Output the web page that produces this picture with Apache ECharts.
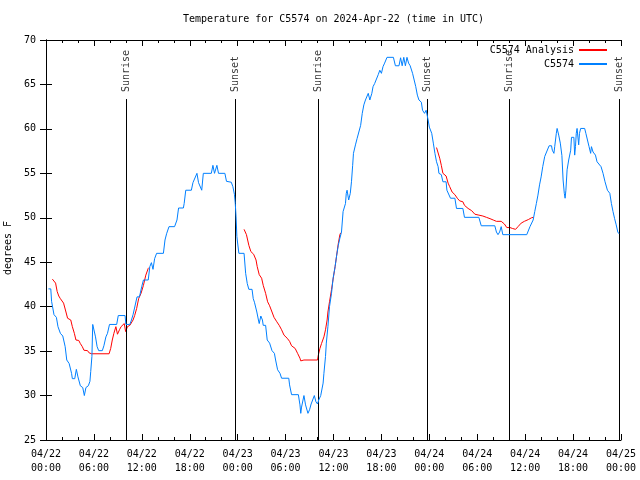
<!DOCTYPE html>
<html>
<head>
<meta charset="utf-8">
<script src="https://cdn.jsdelivr.net/npm/echarts@6/dist/echarts.min.js"></script>
<style>html,body{margin:0;padding:0;background:#fff}#c{width:640px;height:480px}</style>
</head>
<body>
<div id="c"></div>
<script>
// hours since 2024-04-22 00:00 UTC
const xTickLabels = ['04/22\n00:00','04/22\n06:00','04/22\n12:00','04/22\n18:00','04/23\n00:00','04/23\n06:00','04/23\n12:00','04/23\n18:00','04/24\n00:00','04/24\n06:00','04/24\n12:00','04/24\n18:00','04/25\n00:00'];
const yTicks = [25,30,35,40,45,50,55,60,65,70];

const stationHour = [0.3,0.6,0.7,1.0,1.3,1.5,1.8,2.1,2.4,2.6,2.9,3.2,3.3,3.6,3.8,4.0,4.3,4.6,4.8,5.0,5.3,5.5,5.6,5.75,5.85,6.05,6.2,6.4,6.6,7.05,7.25,7.5,7.7,7.9,7.95,8.85,9.05,9.9,10.0,10.5,10.7,10.9,11.1,11.4,11.7,12.0,12.2,12.8,13.0,13.2,13.4,13.6,13.85,14.7,14.9,15.1,15.4,16.1,16.4,16.6,17.2,17.3,17.5,18.2,18.4,18.6,18.9,19.1,19.5,19.7,20.7,20.9,21.1,21.4,21.6,22.4,22.6,23.2,23.4,23.6,23.7,23.8,23.9,23.95,24.15,24.8,25.0,25.2,25.4,25.8,25.95,26.1,26.4,26.6,26.7,26.9,27.1,27.2,27.5,27.7,28.0,28.2,28.3,28.6,28.75,29.0,29.3,29.5,30.4,30.5,30.75,31.6,31.8,31.9,32.0,32.3,32.5,32.8,33.0,33.2,33.4,33.6,33.8,34.0,34.15,34.4,34.6,34.7,34.8,35.0,35.1,35.3,35.5,35.75,35.95,36.2,36.4,36.6,36.8,37.0,37.2,37.5,37.6,37.7,37.9,38.1,38.25,38.4,38.5,38.75,38.95,39.2,39.4,39.6,39.8,40.0,40.2,40.35,40.55,40.8,40.95,41.15,41.4,41.6,41.8,42.0,42.2,42.4,42.7,43.5,43.75,44.2,44.4,44.6,44.8,45.0,45.2,45.4,45.6,45.9,46.1,46.3,46.5,46.7,47.0,47.15,47.4,47.6,47.85,48.0,48.3,48.5,48.7,48.9,49.1,49.2,49.5,49.7,50.1,50.2,50.45,50.65,51.2,51.4,52.2,52.4,54.2,54.5,56.2,56.4,56.6,56.8,57.0,57.2,60.2,60.6,61.0,61.2,61.4,61.6,61.8,62.0,62.2,62.45,62.7,63.0,63.3,63.4,63.6,63.7,63.9,64.0,64.2,64.4,64.6,64.75,64.9,65.0,65.1,65.25,65.45,65.7,65.8,66.1,66.2,66.3,66.4,66.5,66.7,66.8,66.95,67.45,67.6,67.8,68.0,68.2,68.3,68.5,68.8,69.0,69.2,69.5,69.75,70.0,70.3,70.6,70.8,71.0,71.2,71.4,71.6,71.75];
const stationTemp = [42.0,42.0,40.6,39.1,38.8,37.75,37.0,36.7,35.5,34.0,33.6,32.5,31.9,31.9,32.95,32.1,31.1,30.9,30.0,30.9,31.1,31.6,32.7,34.4,38.0,38.0,36.6,35.5,35.05,35.05,35.6,36.6,37.0,37.0,38.0,38.0,39.0,39.0,38.0,38.0,38.5,39.1,39.3,41.1,41.1,42.3,43.0,43.0,44.5,44.95,44.2,45.4,46.0,46.0,47.5,48.2,49.0,49.0,49.75,51.1,51.1,51.6,53.1,53.1,53.95,54.1,55.0,53.95,53.1,55.0,55.0,55.9,55.0,55.9,55.0,55.0,54.1,54.0,53.5,52.6,51.6,50.1,47.9,47.5,46.0,46.0,43.75,42.6,41.95,41.95,40.9,40.5,39.4,38.5,38.1,38.95,38.5,37.9,37.9,36.25,35.9,35.9,35.05,34.75,34.0,32.9,32.5,31.95,31.95,31.2,30.1,30.1,28.95,28.0,28.7,30.0,28.95,28.0,28.4,29.05,29.05,30.0,29.3,29.05,29.5,30.0,30.1,31.4,32.5,34.4,35.9,37.75,40.0,41.5,43.2,44.5,45.8,46.9,47.7,48.4,50.7,51.6,52.75,53.1,52.0,52.75,54.05,55.9,57.25,58.2,58.9,59.05,60.4,61.75,62.7,63.25,63.25,64.0,63.25,64.0,64.75,65.1,65.3,66.1,66.6,66.25,67.0,67.4,68.05,68.05,67.1,67.1,68.0,67.1,68.05,67.1,68.05,67.4,67.1,66.25,65.5,64.75,63.8,63.25,63.0,62.1,61.75,62.1,61.0,60.2,59.5,58.4,57.25,56.3,55.75,55.0,54.85,54.05,54.05,53.1,53.0,52.2,52.2,51.05,51.05,50.05,50.05,49.1,49.1,48.4,48.1,48.4,49.0,48.1,48.1,49.0,49.75,50.7,51.6,52.55,53.7,54.6,55.75,56.9,57.1,58.1,58.1,57.6,57.25,58.0,59.5,60.05,59.3,58.4,57.0,54.25,52.75,52.2,53.1,55.4,56.5,57.6,59.05,59.05,57.05,58.0,59.5,60.05,58.2,59.5,60.05,60.05,59.5,58.75,58.0,57.25,58.0,57.4,57.05,56.3,56.1,55.75,55.0,54.05,53.1,52.75,51.6,50.7,49.9,49.2,48.4,48.2];

const analysisHour = [0.8,1.0,1.2,1.4,1.6,1.8,2.0,2.2,2.5,2.7,3.1,3.3,3.55,3.75,4.1,4.3,4.55,4.75,5.2,5.4,5.7,7.9,8.1,8.3,8.5,8.75,8.95,9.2,9.4,9.6,9.8,9.97,10.2,10.5,10.9,11.1,11.35,11.6,11.9,12.2,12.5,12.8,12.9,null,24.8,24.9,25.1,25.4,25.65,26.0,26.3,26.45,26.7,27.0,27.2,27.5,27.75,28.0,28.3,28.55,28.9,29.2,29.5,29.8,30.2,30.5,30.75,31.2,31.5,31.8,31.9,32.3,34.0,34.1,34.3,34.5,34.8,35.0,35.2,35.3,35.5,35.75,35.95,36.2,36.4,36.6,36.8,36.9,null,48.9,49.1,49.3,49.5,49.7,50.1,50.35,50.55,50.85,51.2,51.5,51.8,52.2,52.4,52.85,53.3,53.7,54.2,54.7,55.15,55.6,56.0,56.4,57.0,57.4,57.7,58.1,58.4,58.8,59.1,59.5,59.9,60.4,60.8,61.0];
const analysisTemp = [43.1,43.1,42.65,41.7,41.2,40.9,40.9,40.4,39.4,38.7,38.5,37.75,37.0,36.25,36.2,35.85,35.5,35.1,35.05,34.8,34.7,34.7,35.3,36.25,37.0,37.75,36.9,37.4,37.75,37.9,38.1,37.2,37.75,37.9,38.5,39.0,39.8,40.9,41.5,42.4,43.55,44.3,44.4,null,48.7,48.6,48.1,46.9,46.2,45.9,45.25,44.5,43.6,43.2,42.4,41.5,40.55,40.1,39.4,38.8,38.3,37.9,37.4,36.8,36.45,36.1,35.6,35.3,34.75,34.2,33.9,34.0,34.0,34.55,35.3,35.85,36.6,37.4,38.5,39.4,40.55,41.9,43.1,44.5,45.8,47.1,48.1,48.3,null,57.9,57.8,56.7,55.9,55.0,54.7,53.9,53.5,52.9,52.6,52.2,51.9,51.8,51.4,51.05,50.8,50.4,50.3,50.2,50.05,49.9,49.75,49.6,49.6,49.3,48.9,48.9,48.8,48.7,49.0,49.4,49.6,49.8,50.0,50.05];

const sunEventHour = [10.1, 23.72, 34.05, 47.72, 58.0, 71.75];
const sunEventName = ['Sunrise','Sunset','Sunrise','Sunset','Sunrise','Sunset'];

const FONT = 'DejaVu Sans Mono';
const zip = (a, b) => a.map((v, i) => (v === null ? [null, null] : [v, b[i]]));
const stationData = zip(stationHour, stationTemp);
const analysisData = zip(analysisHour, analysisTemp);
const lineTop = 63.36, labelBase = 64.15;

const chart = echarts.init(document.getElementById('c'));
const axisCommon = {
  axisLine: { show: true, lineStyle: { color: '#000', width: 1 } },
  splitLine: { show: false }
};
chart.setOption({
  animation: false,
  backgroundColor: '#fff',
  title: {
    text: 'Temperature for C5574 on 2024-Apr-22 (time in UTC)',
    left: 183, top: 14, padding: 0,
    textStyle: { fontFamily: FONT, fontSize: 10, fontWeight: 'normal', color: '#000' }
  },
  legend: {
    orient: 'vertical', right: 32, top: 45, padding: 0,
    itemWidth: 28, itemHeight: 10, itemGap: 4, align: 'right',
    itemStyle: { opacity: 0 },
    data: ['C5574 Analysis', 'C5574'],
    textStyle: { fontFamily: FONT, fontSize: 10, color: '#000' }
  },
  grid: { left: 46, right: 19, top: 40, bottom: 40, containLabel: false, outerBoundsMode: 'none' },
  xAxis: [
    Object.assign({}, axisCommon, {
      type: 'value', min: 0, max: 72, interval: 6, position: 'bottom',
      axisTick: { show: true, inside: true, length: 6, lineStyle: { color: '#000' } },
      minorTick: { show: true, splitNumber: 3, length: 3, lineStyle: { color: '#000' } },
      axisLabel: {
        margin: 7, fontFamily: FONT, fontSize: 10, color: '#000', lineHeight: 14,
        formatter: v => xTickLabels[Math.round(v / 6)]
      }
    }),
    Object.assign({}, axisCommon, {
      type: 'value', min: 0, max: 72, interval: 6, position: 'top',
      axisTick: { show: true, inside: true, length: 6, lineStyle: { color: '#000' } },
      minorTick: { show: true, splitNumber: 3, length: 3, lineStyle: { color: '#000' } },
      axisLabel: { show: false }
    })
  ],
  yAxis: [
    Object.assign({}, axisCommon, {
      type: 'value', min: 25, max: 70, interval: 5, position: 'left',
      name: 'degrees F', nameLocation: 'middle', nameGap: 28,
      nameTextStyle: { fontFamily: FONT, fontSize: 10, color: '#000', padding: [0, 16, 0, 0] },
      axisTick: { show: true, inside: true, length: 6, lineStyle: { color: '#000' } },
      axisLabel: { margin: 10, fontFamily: FONT, fontSize: 10, color: '#000',
        formatter: v => (yTicks.indexOf(v) >= 0 ? String(v) : '') }
    }),
    Object.assign({}, axisCommon, {
      type: 'value', min: 25, max: 70, interval: 5, position: 'right',
      axisTick: { show: true, inside: true, length: 6, lineStyle: { color: '#000' } },
      axisLabel: { show: false }
    })
  ],
  series: [
    {
      name: 'sun', type: 'scatter', symbolSize: 1,
      itemStyle: { color: 'rgba(0,0,0,0)' },
      data: sunEventHour.map((h, i) => [h, labelBase, sunEventName[i]]),
      label: {
        show: true, position: 'inside', rotate: 90, align: 'left', verticalAlign: 'middle',
        fontFamily: FONT, fontSize: 10, color: '#000',
        formatter: p => p.value[2]
      },
      markLine: {
        silent: true, symbol: ['none', 'none'], label: { show: false },
        lineStyle: { color: '#000', width: 1, type: 'solid' },
        data: sunEventHour.map(h => [{ coord: [h, 25] }, { coord: [h, lineTop] }])
      },
      z: 3
    },
    {
      name: 'C5574 Analysis', type: 'line', data: analysisData,
      symbol: 'none', connectNulls: false,
      lineStyle: { color: '#ff0000', width: 1 }, itemStyle: { color: '#ff0000' }, z: 4
    },
    {
      name: 'C5574', type: 'line', data: stationData,
      symbol: 'none',
      lineStyle: { color: '#0080ff', width: 1 }, itemStyle: { color: '#0080ff' }, z: 5
    }
  ]
});
</script>
</body>
</html>
